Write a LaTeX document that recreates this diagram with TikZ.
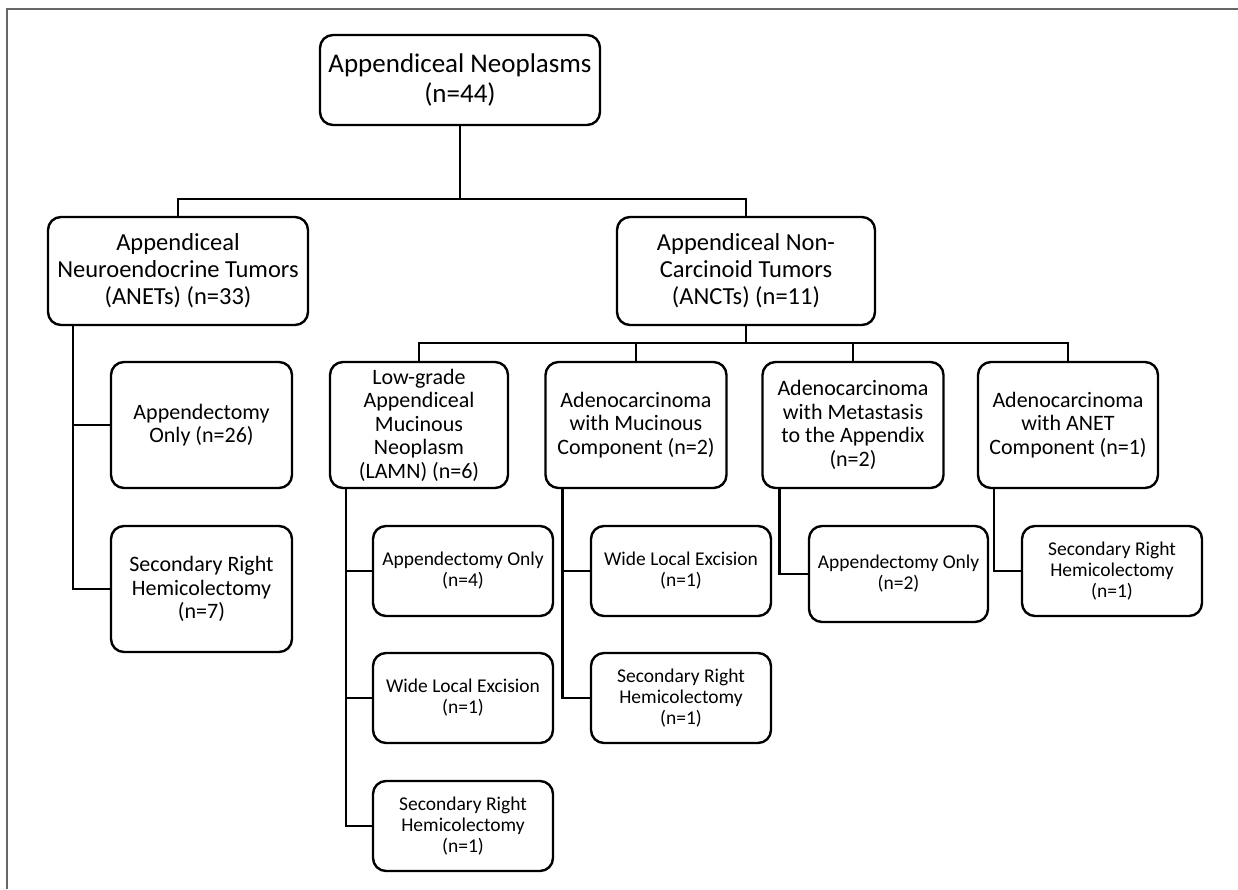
\documentclass[tikz,border=0pt]{standalone}
\usepackage{fontspec}
\setmainfont{Carlito}
\usetikzlibrary{calc}

\tikzset{
    box/.style={draw, line width=2.4pt, rounded corners=13pt, align=center, inner sep=2pt},
    link/.style={line width=2.4pt},
    big/.style={font=\fontsize{27}{30}\selectfont},
    mid/.style={font=\fontsize{24.5}{27}\selectfont},
    small/.style={font=\fontsize{22}{23.5}\selectfont},
    tiny/.style={font=\fontsize{19.5}{21}\selectfont}
}

\begin{document}
\begin{tikzpicture}[x=1pt, y=-1pt]
            \useasboundingbox (0, 0) rectangle (1238, 889);
            \draw[line width=2pt, gray!80!black] (7, 889) -- (7, 9) -- (1238, 9);
            \node[box, big, minimum width=280pt, minimum height=90pt] (root) at (460, 80) {Appendiceal Neoplasms\\(n=44)};
            \node[box, mid, minimum width=260pt, minimum height=108pt] (anet) at (178, 271) {Appendiceal\\Neuroendocrine Tumors\\(ANETs) (n=33)};
            \node[box, mid, minimum width=258pt, minimum height=108pt] (anct) at (746, 271) {Appendiceal Non-\\Carcinoid Tumors\\(ANCTs) (n=11)};
            % ANET branch
            \node[box, small, minimum width=181pt, minimum height=126pt] (anetA) at (201.5, 425) {Appendectomy\\Only (n=26)};
            \node[box, small, minimum width=181pt, minimum height=126pt] (anetB) at (201.5, 589) {Secondary Right\\Hemicolectomy\\(n=7)};
            % ANCT subtypes
            \node[box, small, minimum width=178pt, minimum height=126pt] (lamn) at (419, 425) {Low-grade\\Appendiceal\\Mucinous\\Neoplasm\\(LAMN) (n=6)};
            \node[box, small, minimum width=181pt, minimum height=126pt] (muc) at (636, 425) {Adenocarcinoma\\with Mucinous\\Component (n=2)};
            \node[box, small, minimum width=181pt, minimum height=126pt] (meta) at (853, 425) {Adenocarcinoma\\with Metastasis\\to the Appendix\\(n=2)};
            \node[box, small, minimum width=180pt, minimum height=126pt] (anetc) at (1068, 425) {Adenocarcinoma\\with ANET\\Component (n=1)};
            % treatments
            \node[box, tiny, minimum width=180pt, minimum height=90pt] (lamnA) at (463, 571) {Appendectomy Only\\(n=4)};
            \node[box, tiny, minimum width=180pt, minimum height=90pt] (lamnB) at (463, 698) {Wide Local Excision\\(n=1)};
            \node[box, tiny, minimum width=180pt, minimum height=90pt] (lamnC) at (463, 826) {Secondary Right\\Hemicolectomy\\(n=1)};
            \node[box, tiny, minimum width=180pt, minimum height=90pt] (mucA) at (681, 571) {Wide Local Excision\\(n=1)};
            \node[box, tiny, minimum width=180pt, minimum height=90pt] (mucB) at (681, 698) {Secondary Right\\Hemicolectomy\\(n=1)};
            \node[box, tiny, minimum width=179pt, minimum height=96pt] (metaA) at (898.5, 574) {Appendectomy Only\\(n=2)};
            \node[box, tiny, minimum width=180pt, minimum height=90pt] (anetcA) at (1112, 571) {Secondary Right\\Hemicolectomy\\(n=1)};
            % connectors
            \coordinate (bus1) at (460, 199);
            \coordinate (bus2) at (746, 343);
            \draw[link] (root) -- (bus1) -| (anet);
            \draw[link] (bus1) -| (anct);
            \draw[link] (anct) -- (bus2) -| (lamn);
            \draw[link] (bus2) -| (muc);
            \draw[link] (bus2) -| (meta);
            \draw[link] (bus2) -| (anetc);
            \draw[link] ([xshift=26pt]anet.south west) |- (anetA.west);
            \draw[link] ([xshift=26pt]anet.south west) |- (anetB.west);
            \draw[link] ([xshift=17pt]lamn.south west) |- (lamnA.west);
            \draw[link] ([xshift=17pt]lamn.south west) |- (lamnB.west);
            \draw[link] ([xshift=17pt]lamn.south west) |- (lamnC.west);
            \draw[link] ([xshift=18pt]muc.south west) |- (mucA.west);
            \draw[link] ([xshift=18pt]muc.south west) |- (mucB.west);
            \draw[link] ([xshift=18pt]meta.south west) |- (metaA.west);
            \draw[link] ([xshift=17pt]anetc.south west) |- (anetcA.west);
        \end{tikzpicture}
\end{document}
